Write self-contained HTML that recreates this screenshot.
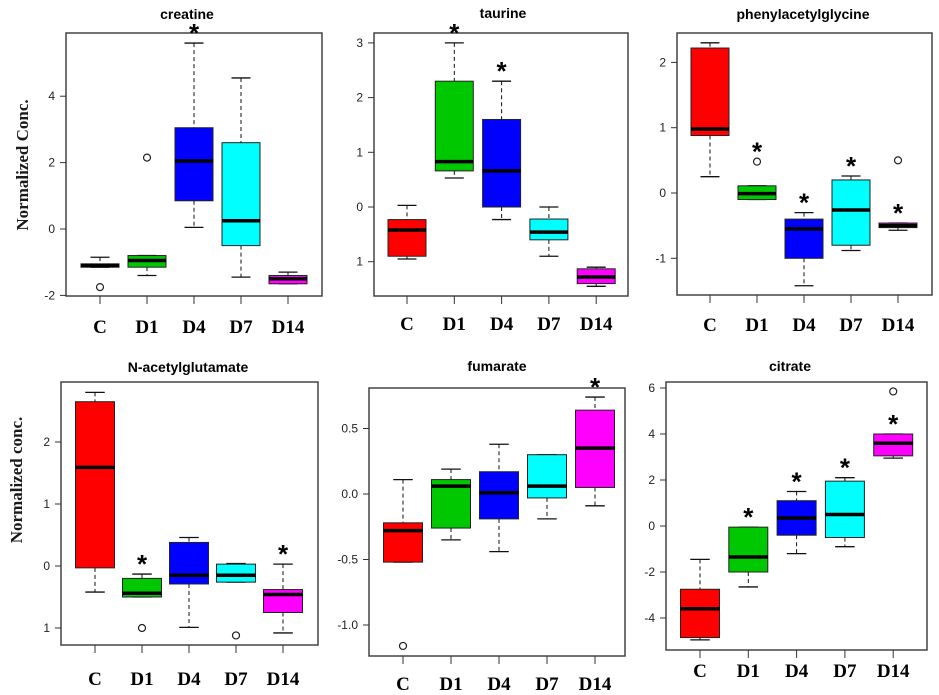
<!DOCTYPE html>
<html><head><meta charset="utf-8">
<style>
html,body{margin:0;padding:0;background:#fff;}
svg{display:block;}
.ttl{font-family:"Liberation Sans",sans-serif;font-weight:bold;font-size:14px;}
.tk{font-family:"Liberation Sans",sans-serif;font-size:12px;fill:#222;}
.xl{font-family:"Liberation Serif",serif;font-weight:bold;font-size:19px;}
.yt{font-family:"Liberation Serif",serif;font-weight:bold;font-size:17px;fill:#1a1a1a;}
.st{font-family:"Liberation Sans",sans-serif;font-weight:bold;font-size:26px;}
</style></head>
<body>
<svg id="fig" width="939" height="695" viewBox="0 0 939 695"></svg>
<script>
const groups = ["C","D1","D4","D7","D14"];
const colors = ["#ff0000","#00c800","#0000ff","#00ffff","#ff00ff"];

// creatine
const creLo=[-1.15,-1.4,0.05,-1.45,-1.65], creQ1=[-1.15,-1.15,0.85,-0.5,-1.65], creMed=[-1.1,-0.95,2.05,0.25,-1.5], creQ3=[-1.05,-0.8,3.05,2.6,-1.4], creHi=[-0.85,-0.8,5.6,4.55,-1.3];
const creOut=[[-1.75],[2.15],[],[],[]];
const creStar=[null,null,5.6,null,null];
const creTicks=[-2,0,2,4], creTickLabels=["-2","0","2","4"];
// taurine
const tauLo=[-0.95,0.53,-0.23,-0.9,-1.45], tauQ1=[-0.9,0.66,0,-0.6,-1.4], tauMed=[-0.42,0.83,0.66,-0.46,-1.28], tauQ3=[-0.23,2.3,1.6,-0.22,-1.13], tauHi=[0.03,3.0,2.3,0,-1.1];
const tauOut=[[],[],[],[],[]];
const tauStar=[null,3.0,2.3,null,null];
const tauTicks=[-1,0,1,2,3], tauTickLabels=["1","0","1","2","3"];
// phenylacetylglycine
const phLo=[0.25,-0.1,-1.42,-0.88,-0.57], phQ1=[0.88,-0.1,-1.0,-0.8,-0.53], phMed=[0.98,-0.01,-0.55,-0.26,-0.5], phQ3=[2.22,0.11,-0.4,0.2,-0.46], phHi=[2.3,0.11,-0.3,0.26,-0.46];
const phOut=[[],[0.48],[],[],[0.5]];
const phStar=[null,0.48,-0.3,0.26,-0.46];
const phTicks=[-1,0,1,2], phTickLabels=["-1","0","1","2"];
// N-acetylglutamate
const nagLo=[-0.42,-0.5,-0.99,-0.26,-1.08], nagQ1=[-0.03,-0.5,-0.29,-0.26,-0.75], nagMed=[1.59,-0.44,-0.15,-0.15,-0.46], nagQ3=[2.65,-0.2,0.38,0.03,-0.38], nagHi=[2.8,-0.13,0.46,0.04,0.03];
const nagOut=[[],[-1.0],[],[-1.12],[]];
const nagStar=[null,-0.13,null,null,0.03];
const nagTicks=[-1,0,1,2], nagTickLabels=["1","0","1","2"];
// fumarate
const fuLo=[-0.52,-0.35,-0.44,-0.19,-0.09], fuQ1=[-0.52,-0.26,-0.19,-0.03,0.05], fuMed=[-0.28,0.06,0.01,0.06,0.35], fuQ3=[-0.22,0.11,0.17,0.3,0.64], fuHi=[0.11,0.19,0.38,0.3,0.74];
const fuOut=[[-1.16],[],[],[],[]];
const fuStar=[null,null,null,null,0.74];
const fuTicks=[-1,-0.5,0,0.5], fuTickLabels=["-1.0","-0.5","0.0","0.5"];
// citrate
const ciLo=[-4.95,-2.65,-1.2,-0.9,2.95], ciQ1=[-4.85,-2.0,-0.4,-0.5,3.05], ciMed=[-3.6,-1.35,0.35,0.5,3.6], ciQ3=[-2.75,-0.05,1.1,1.95,4.0], ciHi=[-1.45,-0.05,1.5,2.1,4.0];
const ciOut=[[],[],[],[],[5.85]];
const ciStar=[null,-0.05,1.5,2.1,4.0];
const ciTicks=[-4,-2,0,2,4,6], ciTickLabels=["-4","-2","0","2","4","6"];

const NS="http://www.w3.org/2000/svg";
const svg=document.getElementById('fig');
function mk(tag,attrs,parent){const e=document.createElementNS(NS,tag);for(const k in attrs)e.setAttribute(k,attrs[k]);(parent||svg).appendChild(e);return e;}

function panel(p){
  const g=mk('g',{});
  
  
  const y=v=>p.y0-(v)*p.ppu;
  const x=i=>p.x0+i*p.dx;
  const t=mk('text',{x:p.tx,y:p.ty,'text-anchor':'middle',class:'ttl'},g);t.textContent=p.title;
  
  
  const fr=mk('rect',{x:p.L,y:p.T,width:p.R-p.L,height:p.B-p.T,fill:'none',stroke:'#444','stroke-width':1.5},g);
  
  
  p.ticks.forEach((v,k)=>{
    mk('line',{x1:p.L-6,x2:p.L,y1:y(v),y2:y(v),stroke:'#333'},g);
    const tl=mk('text',{x:p.L-11,y:y(v)+4,'text-anchor':'end',class:'tk'},g);tl.textContent=p.tickLabels[k];
    
    
  });
  const w=p.bw;
  groups.forEach((gname,i)=>{
    const cx=x(i);
    const bg=mk('g',{},g);
    
    
    mk('line',{x1:cx,x2:cx,y1:y(p.hi[i]),y2:y(p.q3[i]),stroke:'#111','stroke-dasharray':'4,3'},bg);
    mk('line',{x1:cx,x2:cx,y1:y(p.q1[i]),y2:y(p.lo[i]),stroke:'#111','stroke-dasharray':'4,3'},bg);
    mk('line',{x1:cx-w/4,x2:cx+w/4,y1:y(p.hi[i]),y2:y(p.hi[i]),stroke:'#111','stroke-width':1.3},bg);
    mk('line',{x1:cx-w/4,x2:cx+w/4,y1:y(p.lo[i]),y2:y(p.lo[i]),stroke:'#111','stroke-width':1.3},bg);
    const fill=(p.name==='creatine'&&i===0)?'#111':colors[i];
    mk('rect',{x:cx-w/2,y:y(p.q3[i]),width:w,height:Math.max(1,y(p.q1[i])-y(p.q3[i])),fill:fill,stroke:'#222','stroke-width':1},bg);
    mk('line',{x1:cx-w/2,x2:cx+w/2,y1:y(p.med[i]),y2:y(p.med[i]),stroke:'#000','stroke-width':3.5},bg);
    p.out[i].forEach(o=>{const c=mk('circle',{cx:cx,cy:y(o),r:3.5,fill:'none',stroke:'#222','stroke-width':1.2},bg);
      
      });
    if(p.star[i]!==null){const s=mk('text',{x:cx,y:y(p.star[i])+9-10,'text-anchor':'middle',class:'st'},bg);s.textContent='*';
      
      }
    mk('line',{x1:cx,x2:cx,y1:p.B,y2:p.B+8,stroke:'#333'},g);
    const xl=mk('text',{x:cx,y:p.xly,'text-anchor':'middle',class:'xl'},g);xl.textContent=gname;
    
    
  });
}

panel({name:'creatine',title:'creatine',tx:187,ty:19,L:66,R:322,T:33,B:296,y0:229,ppu:33.2,x0:100,dx:47,bw:38,xly:333,
  lo:creLo,q1:creQ1,med:creMed,q3:creQ3,hi:creHi,out:creOut,star:creStar,ticks:creTicks,tickLabels:creTickLabels});
panel({name:'taurine',title:'taurine',tx:503,ty:18,L:374,R:628,T:33,B:296,y0:207,ppu:54.7,x0:407,dx:47.3,bw:38,xly:330,
  lo:tauLo,q1:tauQ1,med:tauMed,q3:tauQ3,hi:tauHi,out:tauOut,star:tauStar,ticks:tauTicks,tickLabels:tauTickLabels});
panel({name:'phenylacetylglycine',title:'phenylacetylglycine',tx:803,ty:19,L:677,R:932,T:33,B:295,y0:193,ppu:65.3,x0:710,dx:47,bw:38,xly:331,
  lo:phLo,q1:phQ1,med:phMed,q3:phQ3,hi:phHi,out:phOut,star:phStar,ticks:phTicks,tickLabels:phTickLabels});
panel({name:'n-acetylglutamate',title:'N-acetylglutamate',tx:188,ty:372,L:61,R:318,T:382,B:645,y0:566,ppu:62,x0:95,dx:47,bw:39,xly:685,
  lo:nagLo,q1:nagQ1,med:nagMed,q3:nagQ3,hi:nagHi,out:nagOut,star:nagStar,ticks:nagTicks,tickLabels:nagTickLabels});
panel({name:'fumarate',title:'fumarate',tx:497,ty:371,L:369,R:625,T:388,B:656,y0:494,ppu:131,x0:403,dx:48,bw:39,xly:690,
  lo:fuLo,q1:fuQ1,med:fuMed,q3:fuQ3,hi:fuHi,out:fuOut,star:fuStar,ticks:fuTicks,tickLabels:fuTickLabels});
panel({name:'citrate',title:'citrate',tx:790,ty:371,L:666,R:927,T:382,B:650,y0:526,ppu:23,x0:700,dx:48.3,bw:39,xly:677,
  lo:ciLo,q1:ciQ1,med:ciMed,q3:ciQ3,hi:ciHi,out:ciOut,star:ciStar,ticks:ciTicks,tickLabels:ciTickLabels});

const y1=mk('text',{x:0,y:0,'text-anchor':'middle',class:'yt',transform:'translate(28,165) rotate(-90)'});y1.textContent='Normalized Conc.';


const y2=mk('text',{x:0,y:0,'text-anchor':'middle',class:'yt',transform:'translate(22,480) rotate(-90)'});y2.textContent='Normalized conc.';


</script>
</body></html>
